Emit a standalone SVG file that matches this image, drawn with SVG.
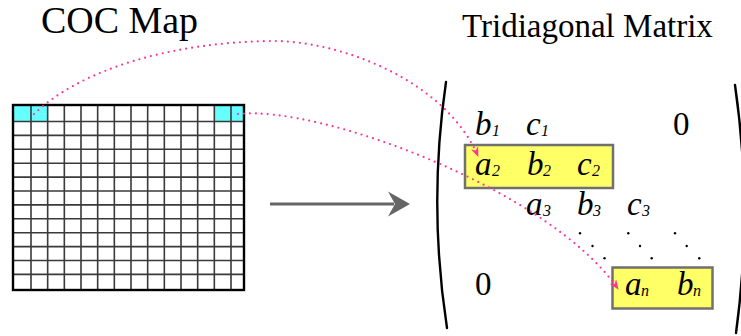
<svg xmlns="http://www.w3.org/2000/svg" width="741" height="336" viewBox="0 0 741 336">
<style>
text{font-family:'Liberation Serif','DejaVu Serif',serif;fill:#000}
.m{font-style:italic;font-size:33px}
.s{font-style:italic;font-size:16px}
.z{font-size:33px}
.gl{stroke:#3a3a3a;stroke-width:1.6;fill:none}
.cyan{fill:#66ffff}
.hl{fill:#ffff66;stroke:#707070;stroke-width:2.5}
.mdot{fill:#000}
.paren{fill:none;stroke:#000;stroke-width:2.4;stroke-linecap:round}
.link{fill:none;stroke:#ff3399;stroke-width:2.2;stroke-linecap:round;stroke-dasharray:0 6}
</style>
<defs>
<marker id="pinkhead" markerUnits="userSpaceOnUse" markerWidth="10" markerHeight="8" refX="9" refY="4" orient="auto">
<path d="M0,0 L10,4 L0,8 L3,4 z" fill="#ff3399"/>
</marker>
</defs>

<g id="coc-map">
<text x="41" y="33" font-size="37" textLength="157" lengthAdjust="spacingAndGlyphs">COC Map</text>
<rect class="cyan" x="13" y="105" width="34.7" height="16.5"/>
<rect class="cyan" x="214.3" y="105" width="29.7" height="16.5"/>
<path class="gl" d="M31,105V290M47.67,105V290M64.33,105V290M81,105V290M97.67,105V290M114.33,105V290M131,105V290M147.67,105V290M164.33,105V290M181,105V290M197.67,105V290M214.33,105V290M231,105V290"/>
<path class="gl" d="M13,121.5H244M13,135.4H244M13,149.3H244M13,163.2H244M13,177.1H244M13,191H244M13,204.9H244M13,218.8H244M13,232.7H244M13,246.6H244M13,260.5H244M13,274.4H244"/>
<rect x="13" y="105" width="231" height="185" fill="none" stroke="#000" stroke-width="2.4"/>
</g>

<g id="tridiagonal-matrix">
<text x="462" y="37.3" font-size="33">Tridiagonal Matrix</text>
<path class="paren" d="M446,82 Q428,205 447,328"/>
<path class="paren" d="M735,85 Q753,209 736,333"/>
<rect class="hl" x="465" y="145" width="148" height="43"/>
<rect class="hl" x="612.5" y="267.5" width="100" height="41"/>
<text class="m" x="475" y="135">b</text><text class="s" x="492" y="136">1</text>
<text class="m" x="526" y="135">c</text><text class="s" x="541" y="136">1</text>
<text class="z" x="673" y="135">0</text>
<text class="m" x="475" y="175">a</text><text class="s" x="492" y="176">2</text>
<text class="m" x="527" y="175">b</text><text class="s" x="543" y="176">2</text>
<text class="m" x="577" y="175">c</text><text class="s" x="592" y="176">2</text>
<text class="m" x="526" y="215">a</text><text class="s" x="543" y="216">3</text>
<text class="m" x="577" y="215">b</text><text class="s" x="593" y="216">3</text>
<text class="m" x="627" y="215">c</text><text class="s" x="642" y="216">3</text>
<circle class="mdot" cx="580" cy="233.3" r="1.2"/><circle class="mdot" cx="592.5" cy="246" r="1.2"/><circle class="mdot" cx="604.5" cy="258.3" r="1.2"/>
<circle class="mdot" cx="628.3" cy="233.3" r="1.2"/><circle class="mdot" cx="640" cy="246" r="1.2"/><circle class="mdot" cx="651.7" cy="258.3" r="1.2"/>
<circle class="mdot" cx="675" cy="233.3" r="1.2"/><circle class="mdot" cx="686.7" cy="246" r="1.2"/><circle class="mdot" cx="699.3" cy="258.3" r="1.2"/>
<text class="z" x="475" y="295">0</text>
<text class="m" x="625" y="295">a</text><text class="s" x="641" y="296">n</text>
<text class="m" x="677" y="295">b</text><text class="s" x="693" y="296">n</text>
</g>

<g id="connectors">
<path class="link" d="M34,114 C80,70 170,42 273,41 C340,41 445,80 478,156" marker-end="url(#pinkhead)"/>
<path class="link" d="M238,114 C320,105 550,190 618,289" marker-end="url(#pinkhead)"/>
<line x1="270" y1="204" x2="394" y2="204" stroke="#666" stroke-width="3"/>
<polygon points="410,204 388,191.5 395,204 388,216.5" fill="#666"/>
</g>
</svg>
